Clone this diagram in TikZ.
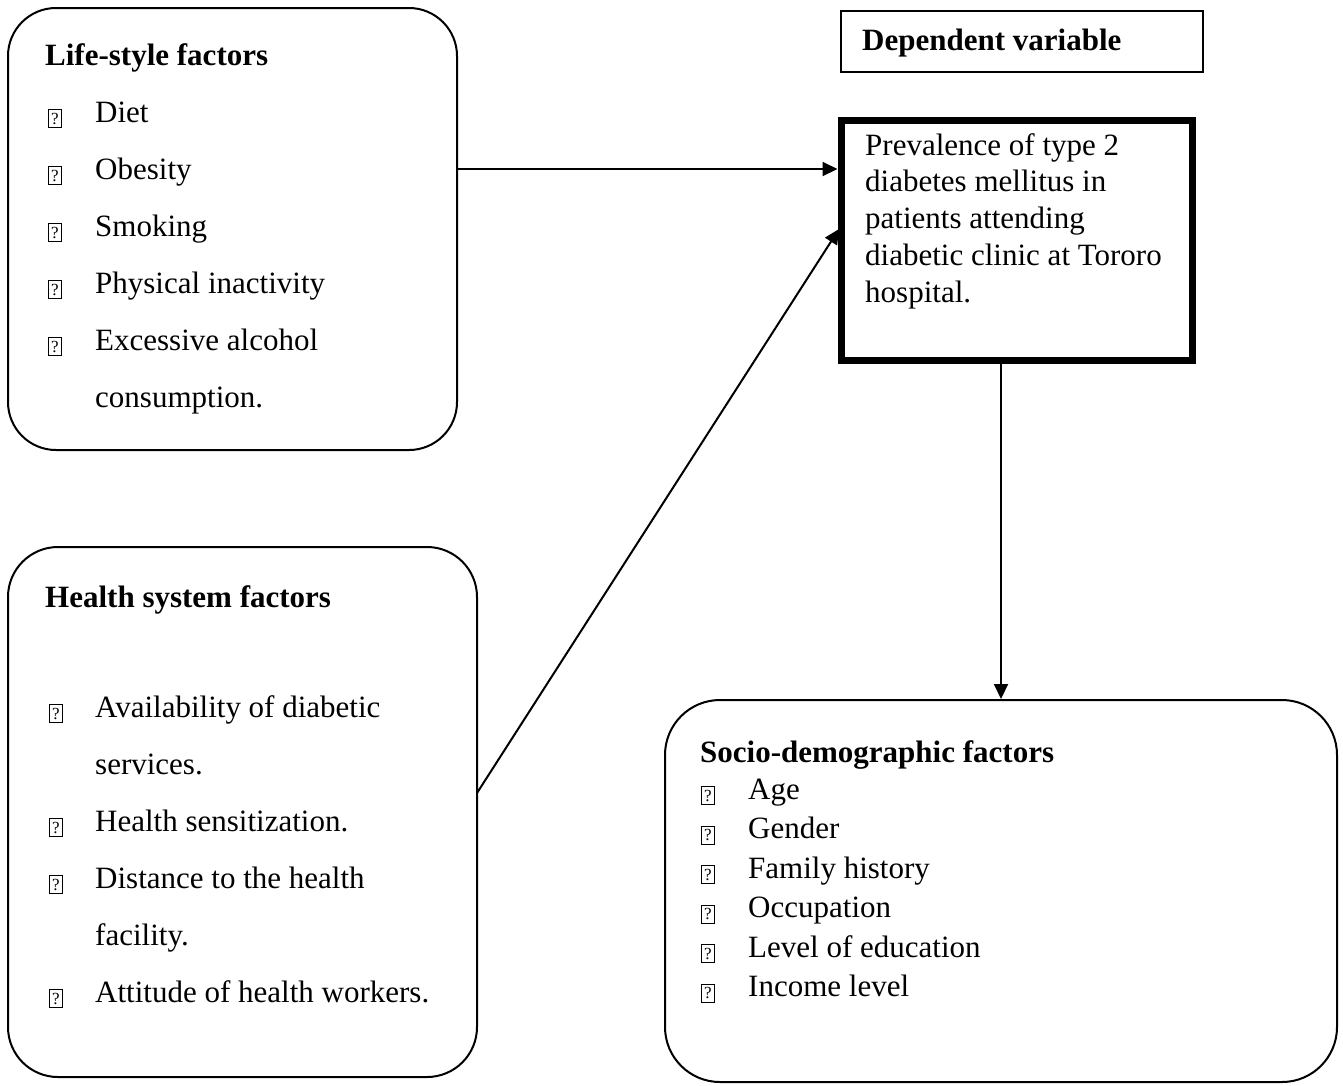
\documentclass[tikz,border=0pt]{standalone}
\usepackage{fontspec}
\setmainfont{Liberation Serif}
\usetikzlibrary{arrows.meta,calc}
\begin{document}
\begin{tikzpicture}[x=1pt,y=-1pt,
  txt/.style={anchor=base west,inner sep=0pt,font=\fontsize{31}{37}\selectfont},
  ttl/.style={anchor=base west,inner sep=0pt,font=\fontsize{31}{37}\selectfont\bfseries},
  qb/.style={draw,line width=1pt,minimum width=13pt,minimum height=18pt,inner sep=0pt,font=\fontsize{17}{17}\selectfont},
  rbox/.style={draw,line width=2pt,anchor=north west,inner sep=0pt,outer sep=0pt},
  arr/.style={line width=2pt,-{Triangle[length=15pt,width=14pt]}}]
\useasboundingbox (0,0) rectangle (1343,1085);

% boxes
\node[rbox,rounded corners=48pt,minimum width=449pt,minimum height=442pt] (life) at (8,8) {};
\node[rbox,rounded corners=50pt,minimum width=469pt,minimum height=530pt] (health) at (8,547) {};
\node[rbox,rounded corners=55pt,minimum width=672pt,minimum height=382pt] (socio) at (665,700) {};
\node[rbox,line width=1.3pt,minimum width=362pt,minimum height=61pt] (dep) at (841,11) {};
\node[rbox,line width=7pt,minimum width=351pt,minimum height=240pt] (prev) at (841,120) {};

% life-style
\node[ttl] (lifet) at (45,65) {Life-style factors};
\foreach \t [count=\i] in {Diet,Obesity,Smoking,Physical inactivity,Excessive alcohol}{
  \node[txt] (lt\i) at (95,{122+57*(\i-1)}) {\t};
  \node[qb] (lb\i) at (55,{118.5+57*(\i-1)}) {?};
}
\node[txt] (lt6) at (95,407) {consumption.};

% health
\node[ttl] (healtht) at (45,607) {Health system factors};
\node[txt] (ht1) at (95,717) {Availability of diabetic};
\node[qb] (hb1) at (56,713.5) {?};
\node[txt] (ht2) at (95,774) {services.};
\node[txt] (ht3) at (95,831) {Health sensitization.};
\node[qb] (hb3) at (56,827.5) {?};
\node[txt] (ht4) at (95,888) {Distance to the health};
\node[qb] (hb4) at (56,884.5) {?};
\node[txt] (ht5) at (95,945) {facility.};
\node[txt] (ht6) at (95,1002) {Attitude of health workers.};
\node[qb] (hb6) at (56,998.5) {?};

% socio
\node[ttl] (sociot) at (700,762) {Socio-demographic factors};
\foreach \t [count=\i] in {Age,Gender,Family history,Occupation,Level of education,Income level}{
  \node[txt] (st\i) at (748,{799+39.5*(\i-1)}) {\t};
  \node[qb] (sb\i) at (708,{795.5+39.5*(\i-1)}) {?};
}

% dependent
\node[ttl] (dept) at (862,50) {Dependent variable};
\foreach \t [count=\i] in {Prevalence of type 2,diabetes mellitus in,patients attending,diabetic clinic at Tororo,hospital.}{
  \node[txt] (pt\i) at (865,{155+36.8*(\i-1)}) {\t};
}

% connectors
\coordinate (a1) at (0,169);
\coordinate (a2s) at (0,793);
\coordinate (a2e) at (0,226);
\coordinate (a3) at (1001,0);
\draw[arr,shorten >=3.5pt] (life.east |- a1) -- (prev.west |- a1);
\draw[arr,shorten >=3.5pt] (health.east |- a2s) -- (prev.west |- a2e);
\draw[arr,shorten >=1pt] (prev.south -| a3) -- (socio.north -| a3);
\end{tikzpicture}
\end{document}
